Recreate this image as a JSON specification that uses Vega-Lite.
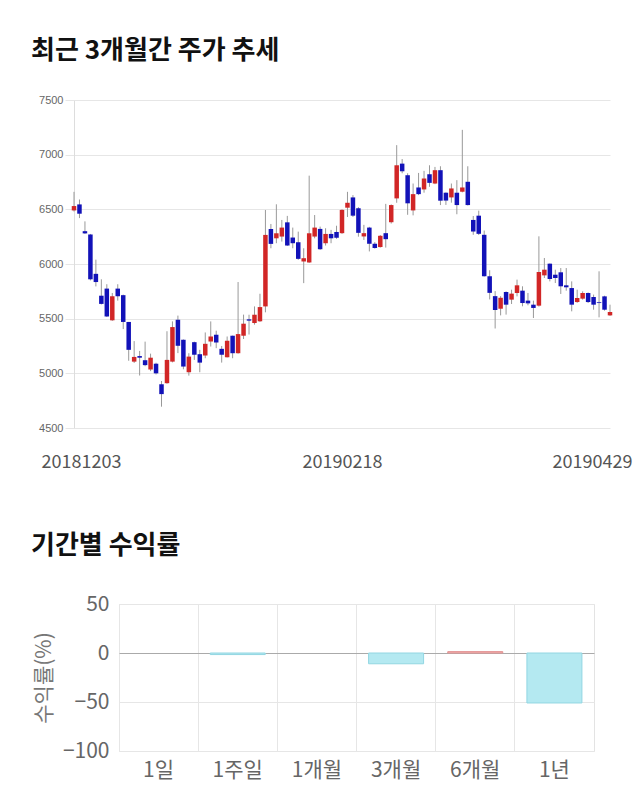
{
  "$schema": "https://vega.github.io/schema/vega-lite/v6.json",
  "padding": {"left": 30, "top": 38, "right": 5, "bottom": 5},
  "spacing": 61,
  "config": {"view": {"stroke": null}, "font": "Noto Sans CJK KR"},
  "vconcat": [
    {
      "title": {"text": "최근 3개월간 주가 추세", "anchor": "start", "frame": "group", "dx": -88, "offset": 30, "fontSize": 26, "fontWeight": "bold", "font": "Noto Sans CJK KR", "color": "#111111"},
      "width": 491,
      "height": 328,
      "data": {"values": [
        {"d":"20181203","o":6490,"c":6530,"h":6660,"l":6480},
        {"d":"20181204","o":6545,"c":6460,"h":6590,"l":6420},
        {"d":"20181205","o":6300,"c":6280,"h":6390,"l":6275},
        {"d":"20181206","o":6270,"c":5860,"h":6275,"l":5850},
        {"d":"20181207","o":5910,"c":5835,"h":6040,"l":5795},
        {"d":"20181210","o":5710,"c":5635,"h":5860,"l":5630},
        {"d":"20181211","o":5775,"c":5520,"h":5815,"l":5515},
        {"d":"20181212","o":5485,"c":5705,"h":5735,"l":5480},
        {"d":"20181213","o":5775,"c":5705,"h":5815,"l":5665},
        {"d":"20181214","o":5715,"c":5470,"h":5720,"l":5405},
        {"d":"20181217","o":5470,"c":5215,"h":5470,"l":5115},
        {"d":"20181218","o":5107,"c":5150,"h":5295,"l":5095},
        {"d":"20181219","o":5158,"c":5143,"h":5205,"l":4980},
        {"d":"20181220","o":5120,"c":5075,"h":5290,"l":5065},
        {"d":"20181221","o":5035,"c":5143,"h":5180,"l":5020},
        {"d":"20181224","o":5088,"c":5000,"h":5097,"l":4990},
        {"d":"20181226","o":4900,"c":4810,"h":4930,"l":4695},
        {"d":"20181227","o":4910,"c":5123,"h":5385,"l":4905},
        {"d":"20181228","o":5107,"c":5423,"h":5475,"l":5100},
        {"d":"20190102","o":5490,"c":5252,"h":5528,"l":5185},
        {"d":"20190103","o":5307,"c":5062,"h":5310,"l":5037},
        {"d":"20190104","o":5010,"c":5153,"h":5184,"l":4979},
        {"d":"20190107","o":5285,"c":5170,"h":5290,"l":5123},
        {"d":"20190108","o":5175,"c":5098,"h":5215,"l":5010},
        {"d":"20190109","o":5163,"c":5270,"h":5374,"l":5138},
        {"d":"20190110","o":5291,"c":5337,"h":5475,"l":5245},
        {"d":"20190111","o":5353,"c":5282,"h":5390,"l":5230},
        {"d":"20190114","o":5224,"c":5170,"h":5250,"l":5098},
        {"d":"20190115","o":5147,"c":5298,"h":5337,"l":5145},
        {"d":"20190116","o":5344,"c":5184,"h":5345,"l":5138},
        {"d":"20190117","o":5184,"c":5359,"h":5835,"l":5180},
        {"d":"20190118","o":5344,"c":5454,"h":5537,"l":5314},
        {"d":"20190121","o":5494,"c":5482,"h":5536,"l":5355},
        {"d":"20190122","o":5460,"c":5536,"h":5612,"l":5445},
        {"d":"20190123","o":5476,"c":5606,"h":5728,"l":5470},
        {"d":"20190124","o":5612,"c":6266,"h":6494,"l":5558},
        {"d":"20190125","o":6320,"c":6184,"h":6366,"l":6144},
        {"d":"20190128","o":6235,"c":6281,"h":6546,"l":6190},
        {"d":"20190129","o":6251,"c":6333,"h":6403,"l":6205},
        {"d":"20190130","o":6381,"c":6169,"h":6440,"l":6165},
        {"d":"20190131","o":6242,"c":6190,"h":6333,"l":6144},
        {"d":"20190201","o":6199,"c":6047,"h":6296,"l":6038},
        {"d":"20190207","o":6023,"c":6053,"h":6144,"l":5825},
        {"d":"20190208","o":6014,"c":6281,"h":6808,"l":6010},
        {"d":"20190211","o":6251,"c":6333,"h":6448,"l":6235},
        {"d":"20190212","o":6321,"c":6135,"h":6342,"l":6129},
        {"d":"20190213","o":6190,"c":6275,"h":6327,"l":6169},
        {"d":"20190214","o":6275,"c":6235,"h":6312,"l":6190},
        {"d":"20190215","o":6293,"c":6240,"h":6350,"l":6230},
        {"d":"20190218","o":6282,"c":6495,"h":6500,"l":6275},
        {"d":"20190219","o":6515,"c":6560,"h":6660,"l":6430},
        {"d":"20190220","o":6609,"c":6442,"h":6630,"l":6430},
        {"d":"20190221","o":6510,"c":6285,"h":6520,"l":6250},
        {"d":"20190222","o":6252,"c":6282,"h":6358,"l":6220},
        {"d":"20190225","o":6333,"c":6185,"h":6340,"l":6115},
        {"d":"20190226","o":6185,"c":6146,"h":6200,"l":6140},
        {"d":"20190227","o":6155,"c":6258,"h":6265,"l":6150},
        {"d":"20190228","o":6282,"c":6227,"h":6550,"l":6150},
        {"d":"20190304","o":6382,"c":6539,"h":6545,"l":6370},
        {"d":"20190305","o":6600,"c":6903,"h":7087,"l":6560},
        {"d":"20190306","o":6918,"c":6848,"h":6960,"l":6830},
        {"d":"20190307","o":6812,"c":6555,"h":6830,"l":6450},
        {"d":"20190308","o":6490,"c":6639,"h":6736,"l":6445},
        {"d":"20190311","o":6700,"c":6639,"h":6833,"l":6630},
        {"d":"20190312","o":6682,"c":6782,"h":6852,"l":6652},
        {"d":"20190313","o":6821,"c":6742,"h":6903,"l":6706},
        {"d":"20190314","o":6736,"c":6858,"h":6888,"l":6730},
        {"d":"20190315","o":6858,"c":6579,"h":6894,"l":6539},
        {"d":"20190318","o":6652,"c":6580,"h":6655,"l":6540},
        {"d":"20190319","o":6609,"c":6691,"h":6736,"l":6561},
        {"d":"20190320","o":6652,"c":6539,"h":6767,"l":6455},
        {"d":"20190321","o":6661,"c":6700,"h":7227,"l":6655},
        {"d":"20190322","o":6752,"c":6539,"h":6894,"l":6535},
        {"d":"20190325","o":6403,"c":6297,"h":6439,"l":6267},
        {"d":"20190326","o":6442,"c":6276,"h":6488,"l":6265},
        {"d":"20190327","o":6267,"c":5888,"h":6306,"l":5885},
        {"d":"20190328","o":5888,"c":5736,"h":5943,"l":5676},
        {"d":"20190329","o":5706,"c":5579,"h":5752,"l":5410},
        {"d":"20190401","o":5591,"c":5691,"h":5706,"l":5530},
        {"d":"20190402","o":5744,"c":5628,"h":5750,"l":5537},
        {"d":"20190403","o":5674,"c":5729,"h":5765,"l":5634},
        {"d":"20190404","o":5735,"c":5805,"h":5857,"l":5704},
        {"d":"20190405","o":5756,"c":5643,"h":5796,"l":5613},
        {"d":"20190408","o":5665,"c":5640,"h":5735,"l":5622},
        {"d":"20190409","o":5628,"c":5598,"h":5665,"l":5506},
        {"d":"20190410","o":5619,"c":5927,"h":6253,"l":5610},
        {"d":"20190411","o":5896,"c":5948,"h":6055,"l":5872},
        {"d":"20190412","o":6003,"c":5863,"h":6005,"l":5841},
        {"d":"20190415","o":5902,"c":5872,"h":5948,"l":5826},
        {"d":"20190416","o":5924,"c":5796,"h":5963,"l":5726},
        {"d":"20190417","o":5805,"c":5787,"h":5963,"l":5756},
        {"d":"20190418","o":5780,"c":5628,"h":5841,"l":5567},
        {"d":"20190419","o":5652,"c":5689,"h":5765,"l":5645},
        {"d":"20190422","o":5683,"c":5735,"h":5750,"l":5674},
        {"d":"20190423","o":5735,"c":5652,"h":5740,"l":5643},
        {"d":"20190424","o":5698,"c":5628,"h":5720,"l":5582},
        {"d":"20190425","o":5650,"c":5643,"h":5933,"l":5512},
        {"d":"20190426","o":5704,"c":5582,"h":5710,"l":5573},
        {"d":"20190429","o":5530,"c":5561,"h":5628,"l":5525}
      ]},
      "encoding": {
        "x": {
          "field": "d", "type": "ordinal",
          "scale": {"type": "point", "padding": 0, "range": [-45, 491]},
          "axis": {
            "title": null,
            "values": ["20181203", "20190218", "20190429"],
            "domain": false, "ticks": false, "grid": false,
            "labelAngle": 0,
            "labelFont": "Noto Sans CJK KR",
            "labelFontSize": 18,
            "labelColor": "#555555",
            "labelPadding": 25,
            "labelOffset": {"condition": [{"test": "datum.value === '20181203'", "value": 7}, {"test": "datum.value === '20190429'", "value": -18}], "value": 0}
          }
        }
      },
      "layer": [
        {
          "mark": {"type": "rule", "color": "#999999", "strokeWidth": 1},
          "encoding": {
            "y": {
              "field": "l", "type": "quantitative",
              "scale": {"domain": [4500, 7500], "nice": false, "zero": false},
              "axis": {
                "title": null, "offset": 45, "format": "d",
                "values": [4500, 5000, 5500, 6000, 6500, 7000, 7500],
                "grid": true, "gridColor": "#e6e6e6",
                "domain": true, "domainColor": "#dddddd",
                "ticks": true, "tickColor": "#e6e6e6", "tickSize": 9,
                "labelFont": "Liberation Sans",
                "labelFontSize": 11, "labelColor": "#666666", "labelPadding": 2
              }
            },
            "y2": {"field": "h"}
          }
        },
        {
          "mark": {"type": "bar", "size": 4.5},
          "encoding": {
            "y": {"field": "o", "type": "quantitative"},
            "y2": {"field": "c"},
            "color": {"condition": {"test": "datum.c >= datum.o", "value": "#d12626"}, "value": "#1212b8"}
          }
        }
      ]
    },
    {
      "title": {"text": "기간별 수익률", "anchor": "start", "frame": "group", "dx": -88, "offset": 34, "fontSize": 26, "fontWeight": "bold", "font": "Noto Sans CJK KR", "color": "#111111"},
      "width": 475,
      "height": 147,
      "view": {"stroke": "#e3e3e3"},
      "data": {"values": [
        {"p": "1일", "r": 0},
        {"p": "1주일", "r": -1.6},
        {"p": "1개월", "r": 0},
        {"p": "3개월", "r": -11},
        {"p": "6개월", "r": 1.4},
        {"p": "1년", "r": -51}
      ]},
      "mark": {"type": "bar", "size": 55, "strokeWidth": 1},
      "encoding": {
        "x": {
          "field": "p", "type": "nominal", "sort": null,
          "scale": {"paddingInner": 0, "paddingOuter": 0},
          "axis": {
            "title": null, "bandPosition": 0,
            "grid": true, "gridColor": "#e6e6e6",
            "domain": false, "ticks": false, "labelAngle": 0,
            "labelFontSize": 21, "labelColor": "#666666", "labelPadding": 8
          }
        },
        "y": {
          "field": "r", "type": "quantitative",
          "scale": {"domain": [-100, 50], "nice": false},
          "axis": {
            "values": [-100, -50, 0, 50],
            "title": "수익률(%)", "titleFontSize": 21, "titleColor": "#777777", "titleFontWeight": "normal", "titlePadding": 8,
            "labelFontSize": 21, "labelColor": "#666666", "labelPadding": 10,
            "domain": false, "ticks": false,
            "gridColor": {"condition": {"test": "datum.value === 0", "value": "#aaaaaa"}, "value": "#e6e6e6"}
          }
        },
        "color": {"condition": {"test": "datum.r >= 0", "value": "#f6b9b6"}, "value": "#b4e9f1"},
        "stroke": {"condition": [{"test": "datum.r > 0", "value": "#e39090"}, {"test": "datum.r < 0", "value": "#92d6e2"}], "value": "transparent"}
      }
    }
  ]
}
